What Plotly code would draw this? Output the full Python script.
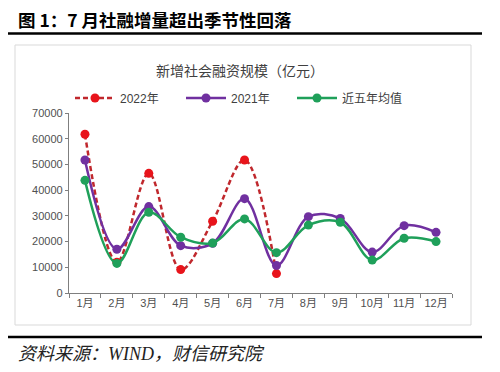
import plotly.graph_objects as go

months = ["1月", "2月", "3月", "4月", "5月", "6月", "7月", "8月", "9月", "10月", "11月", "12月"]
y2022 = [61726, 11928, 46531, 9102, 27917, 51727, 7561]
y2021 = [51742, 17000, 33600, 18400, 19300, 36700, 10700, 29700, 29000, 15900, 26200, 23600]
avg5 = [43800, 11500, 31400, 21700, 19400, 28800, 15700, 26400, 27500, 12800, 21300, 20000]
y_ticks = [0, 10000, 20000, 30000, 40000, 50000, 60000, 70000]

# page body has a default 8px margin; work in page pixel coordinates
OFF = 8
W, H = 500, 372
PL, PR, PT, PB = 69, 452, 113, 293          # plot area in page pixels
L, R, T, B = PL - OFF, PR - OFF, PT - OFF, PB - OFF  # in figure pixels

def px(x):
    return (x - PL) / (PR - PL)

def py(y):
    return (PB - y) / (PB - PT)

base_font = "Liberation Sans, Noto Sans CJK SC, sans-serif"

fig = go.Figure()
fig.add_trace(go.Scatter(
    x=months[:len(y2022)], y=y2022, name="2022年", mode="lines+markers",
    line=dict(color="#c0282d", width=2.5, dash="5px,3px", shape="spline", smoothing=1.0),
    marker=dict(color="#e8141b", size=9)))
fig.add_trace(go.Scatter(
    x=months, y=y2021, name="2021年", mode="lines+markers",
    line=dict(color="#7030a0", width=2.5, shape="spline", smoothing=1.0),
    marker=dict(color="#7030a0", size=9)))
fig.add_trace(go.Scatter(
    x=months, y=avg5, name="近五年均值", mode="lines+markers",
    line=dict(color="#1fa05a", width=2.5, shape="spline", smoothing=1.0),
    marker=dict(color="#1fa05a", size=9)))

fig.update_layout(
    width=W, height=H, autosize=False,
    margin=dict(l=L, r=W - R, t=T, b=H - B, pad=0, autoexpand=False),
    paper_bgcolor="white", plot_bgcolor="white",
    font=dict(family=base_font, size=11, color="#404040"),
    showlegend=True,
    legend=dict(orientation="h", x=px(70), y=py(98), xanchor="left", yanchor="middle",
                font=dict(size=12, color="#404040", family="Liberation Sans, Noto Sans CJK SC"),
                entrywidth=56, itemwidth=40, bgcolor="rgba(0,0,0,0)", traceorder="normal"),
)
fig.update_xaxes(type="category", categoryorder="array", categoryarray=months,
                 range=[-0.5, 11.5], tickson="boundaries", ticks="outside", ticklen=4,
                 tickcolor="#7f7f7f", showline=True, linecolor="#7f7f7f", linewidth=1.3,
                 showgrid=False, zeroline=False, tickangle=0, automargin=False,
                 tickfont=dict(size=11, color="#505050"))
fig.update_yaxes(range=[0, 70000], tickvals=y_ticks, ticktext=[str(v) for v in y_ticks],
                 ticks="outside", ticklen=3, tickcolor="#7f7f7f", showline=True,
                 linecolor="#7f7f7f", linewidth=1.3, showgrid=False, zeroline=False,
                 automargin=False, tickfont=dict(size=11, color="#505050"))

shapes = [
    dict(type="line", xref="paper", yref="paper", x0=px(4), x1=px(482), y0=py(33.5), y1=py(33.5),
         line=dict(color="black", width=2.5)),
    dict(type="line", xref="paper", yref="paper", x0=px(4), x1=px(482), y0=py(337), y1=py(337),
         line=dict(color="black", width=2.5)),
    dict(type="rect", xref="paper", yref="paper", x0=px(15), x1=px(471), y0=py(45), y1=py(325),
         line=dict(color="#d9d9d9", width=1), fillcolor="rgba(0,0,0,0)", layer="below"),
]
fig.update_layout(shapes=shapes)

fig.add_annotation(xref="paper", yref="paper", x=px(16), y=py(19), xanchor="left", yanchor="middle",
                   text="<b>图 1：7 月社融增量超出季节性回落</b>", showarrow=False,
                   font=dict(size=17.5, color="black", family="Noto Sans CJK SC, sans-serif"))
fig.add_annotation(xref="paper", yref="paper", x=px(240), y=py(70), xanchor="center", yanchor="middle",
                   text="新增社会融资规模（亿元）", showarrow=False,
                   font=dict(size=14, color="#404040", family="Noto Sans CJK SC, sans-serif"))
fig.add_annotation(xref="paper", yref="paper", x=px(16), y=py(354), xanchor="left", yanchor="middle",
                   text="<i>资料来源：WIND，财信研究院</i>", showarrow=False,
                   font=dict(size=18, color="#222222", family="Liberation Serif, Noto Sans CJK SC, serif"))

fig.write_html("out.html")
